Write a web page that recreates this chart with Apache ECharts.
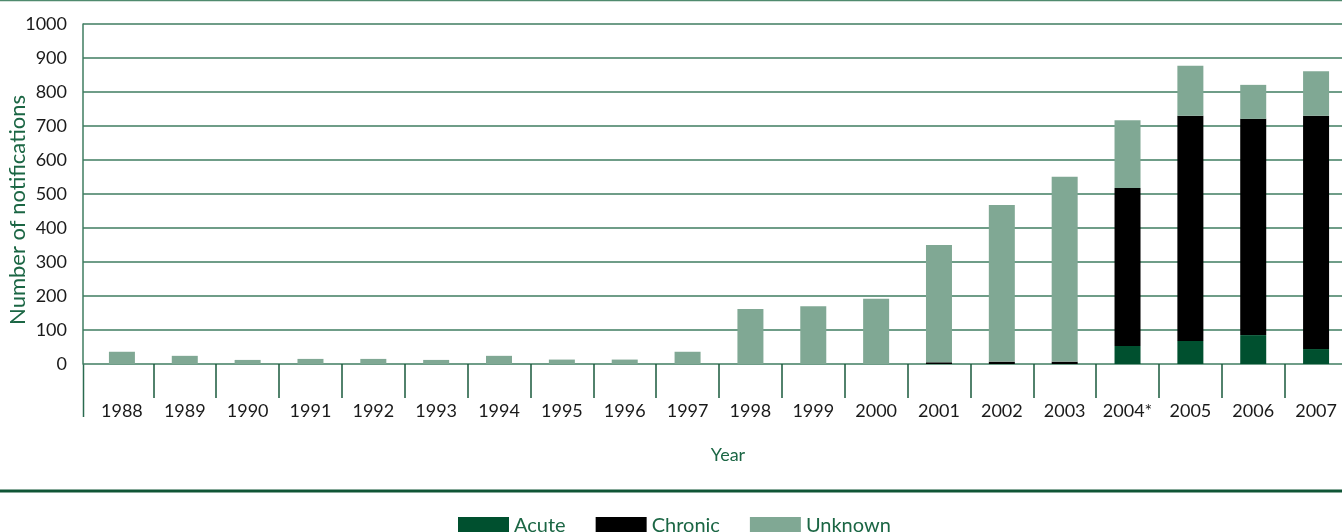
<!DOCTYPE html>
<html>
<head>
<meta charset="utf-8">
<script src="https://cdn.jsdelivr.net/npm/echarts@6/dist/echarts.min.js"></script>
<style>
    html, body { margin: 0; padding: 0; background: #fff; }
    #chart { width: 1342px; height: 532px; }
</style>
</head>
<body>
<div id="chart"></div>
<script>
// 数据
var years = ['1988', '1989', '1990', '1991', '1992', '1993', '1994', '1995', '1996', '1997',
    '1998', '1999', '2000', '2001', '2002', '2003', '2004*', '2005', '2006', '2007'];
var acute = [0, 0, 0, 0, 0, 0, 0, 0, 0, 0, 0, 0, 0, 0, 0, 0, 53, 68, 85, 44];
var chronic = [0, 0, 0, 0, 0, 0, 0, 0, 0, 0, 0, 0, 0, 5, 7, 7, 465, 662, 636, 686];
var unknown = [36, 24, 12, 15, 15, 12, 24, 13, 13, 36, 162, 170, 192, 345, 461, 544, 199, 147, 100, 131];
var legendNames = ['Acute', 'Chronic', 'Unknown'];

var font = 'Lato, "Noto Sans", sans-serif';
var gridColor = '#3f7d61';
var green = '#1b6644';

var myChart = echarts.init(document.getElementById('chart'));

var option = {
    animation: false,
    textStyle: {fontFamily: font},
    legend: {
        data: legendNames,
        left: 458,
        top: 516,
        padding: 0,
        icon: 'rect',
        itemWidth: 51,
        itemHeight: 18,
        itemGap: 30,
        textStyle: {color: green, fontSize: 20, fontFamily: font}
    },
    // grid 0: 纵轴和网格线, grid 1: 柱子
    grid: [
        {left: 83, top: 24, height: 340, width: 1270, containLabel: false, outerBoundsMode: 'none'},
        {left: 90.5, top: 24, height: 340, width: 1257, containLabel: false, outerBoundsMode: 'none'}
    ],
    xAxis: [
        {gridIndex: 0, type: 'value', show: false, min: 0, max: 1},
        {
            gridIndex: 1,
            type: 'category',
            data: years,
            axisLine: {show: false},
            axisTick: {
                show: true,
                length: 34,
                interval: function (index) {
                    return index !== 0;
                },
                lineStyle: {color: '#1a5a3c', width: 1.5}
            },
            axisLabel: {color: '#1a1a1a', fontSize: 18, margin: 38, interval: 0, fontFamily: font},
            name: 'Year',
            nameLocation: 'middle',
            nameGap: 82,
            nameMoveOverlap: false,
            nameTextStyle: {color: green, fontSize: 18, fontFamily: font, padding: [0, 0, 0, 18]}
        }
    ],
    yAxis: [
        {
            gridIndex: 0,
            type: 'value',
            min: 0,
            max: 1000,
            interval: 100,
            axisLine: {show: true, lineStyle: {color: gridColor, width: 1.5}},
            axisTick: {show: false},
            splitLine: {show: true, lineStyle: {color: gridColor, width: 1.5}},
            axisLabel: {
                color: '#1a1a1a', fontSize: 18, margin: 16, fontFamily: font,
                formatter: function (v) {
                    return String(v);
                }
            },
            name: 'Number of notifications',
            nameLocation: 'middle',
            nameGap: 54,
            nameMoveOverlap: false,
            nameTextStyle: {color: green, fontSize: 22, fontFamily: font, padding: [0, 32, 0, 0]}
        },
        {gridIndex: 1, type: 'value', min: 0, max: 1000, show: false}
    ],
    graphic: [
        {type: 'line', shape: {x1: 0, y1: 0.5, x2: 1342, y2: 0.5}, style: {stroke: '#4f8a6e', lineWidth: 1.5}},
        {type: 'line', shape: {x1: 0, y1: 491, x2: 1342, y2: 491}, style: {stroke: '#0f5535', lineWidth: 3}},
        {type: 'line', shape: {x1: 83.5, y1: 364, x2: 83.5, y2: 417}, style: {stroke: '#2a6a4f', lineWidth: 1.5}}
    ],
    series: [
        {name: 'Acute', type: 'bar', stack: 'total', xAxisIndex: 1, yAxisIndex: 1, barWidth: 26,
            itemStyle: {color: '#00502f'}, data: acute},
        {name: 'Chronic', type: 'bar', stack: 'total', xAxisIndex: 1, yAxisIndex: 1, barWidth: 26,
            itemStyle: {color: '#000000'}, data: chronic},
        {name: 'Unknown', type: 'bar', stack: 'total', xAxisIndex: 1, yAxisIndex: 1, barWidth: 26,
            itemStyle: {color: '#80a894'}, data: unknown}
    ]
};

myChart.setOption(option);
window.addEventListener("resize", function () {
    myChart.resize();
});
</script>
</body>
</html>
